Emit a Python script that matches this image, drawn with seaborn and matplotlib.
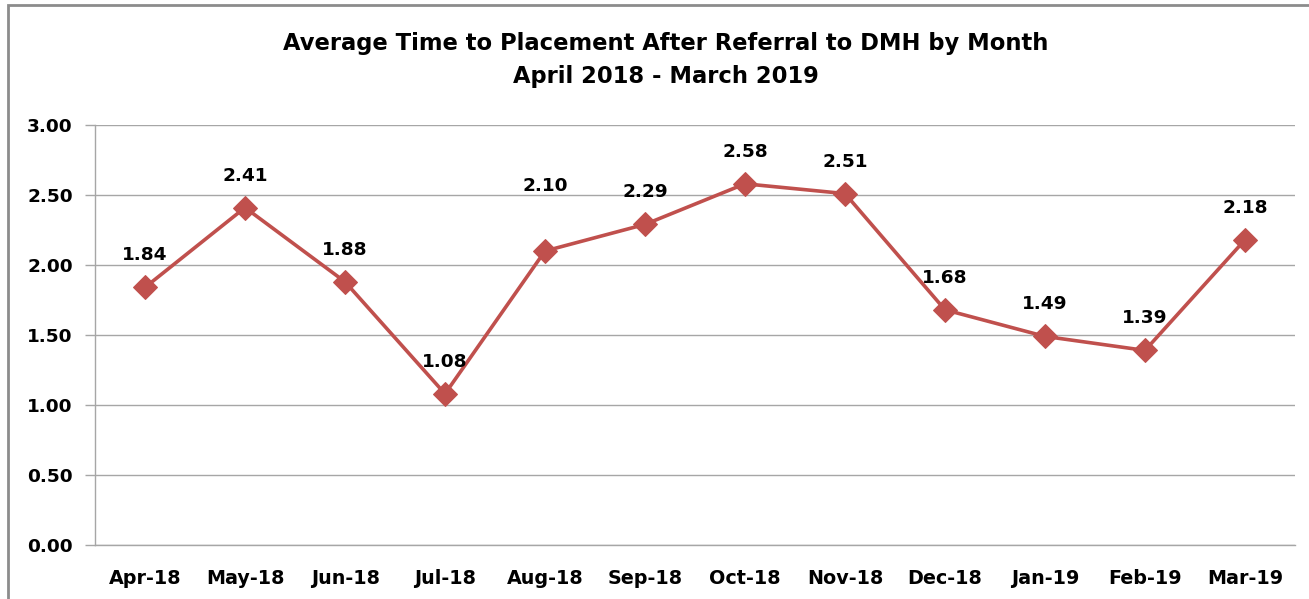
"""
Average time to placement after referral to DMH, monthly line chart
"""
import matplotlib
matplotlib.use("Agg")
import matplotlib.pyplot as plt
from matplotlib.patches import Rectangle
import seaborn as sns
import numpy as np
import pandas as pd

# Chart data
months = ["Apr-18", "May-18", "Jun-18", "Jul-18", "Aug-18", "Sep-18",
          "Oct-18", "Nov-18", "Dec-18", "Jan-19", "Feb-19", "Mar-19"]
avg_time = [1.84, 2.41, 1.88, 1.08, 2.10, 2.29, 2.58, 2.51, 1.68, 1.49, 1.39, 2.18]
y_ticks = [0.0, 0.5, 1.0, 1.5, 2.0, 2.5, 3.0]

df = pd.DataFrame({"month": months, "value": avg_time})

sns.set_style("white")
plt.rcParams["font.family"] = ["DejaVu Sans"]
plt.rcParams["text.color"] = "black"
plt.rcParams["xtick.labelcolor"] = "black"
plt.rcParams["ytick.labelcolor"] = "black"

LINE = "#C0504D"
GRID = "#A6A6A6"

fig = plt.figure(figsize=(13.09, 5.99), dpi=100)
ax = fig.add_axes([95 / 1309, 1 - 545 / 599, 1200 / 1309, 420 / 599])

sns.lineplot(data=df, x="month", y="value", ax=ax, color=LINE, linewidth=2.6,
             marker="D", markersize=12.5, markeredgecolor=LINE, sort=False)

# Data labels above points (Aug label sits higher in the original)
label_offsets = [33] * len(months)
label_offsets[4] = 66
for i, (v, off) in enumerate(zip(avg_time, label_offsets)):
    ax.annotate(f"{v:.2f}", (i, v), xytext=(0, off - 10), textcoords="offset pixels",
                ha="center", va="bottom", fontsize=13.3, fontweight="bold",
                color="black")

ax.set_xlim(-0.5, len(months) - 0.5)
ax.set_ylim(0, 3)
ax.set_yticks(y_ticks)
ax.set_yticklabels([f"{t:.2f}" for t in y_ticks])
ax.set_xticks(range(len(months)))
ax.set_xticklabels(months)
ax.set_xticks(np.arange(-0.5, len(months), 1.0), minor=True)
ax.tick_params(axis="x", which="major", length=0, pad=17)
ax.tick_params(axis="x", which="minor", length=7, color=GRID, width=1)
ax.tick_params(axis="y", length=7, color=GRID, width=1, pad=9, left=True)
for lbl in ax.get_xticklabels():
    lbl.set_fontweight("bold")
    lbl.set_fontsize(13.8)
for lbl in ax.get_yticklabels():
    lbl.set_fontweight("bold")
    lbl.set_fontsize(13.3)

ax.grid(axis="y", color=GRID, linewidth=1)
ax.set_axisbelow(True)
ax.set_xlabel("")
ax.set_ylabel("")
for side in ["top", "right"]:
    ax.spines[side].set_visible(False)
for side in ["left", "bottom"]:
    ax.spines[side].set_color(GRID)
    ax.spines[side].set_linewidth(1)

fig.text(666 / 1309, 1 - 60 / 599,
         "Average Time to Placement After Referral to DMH by Month\nApril 2018 - March 2019",
         ha="center", va="center", fontsize=16.3, fontweight="bold", linespacing=1.6)

# Chart-area border, as in the source image
fig.patches.append(Rectangle((8 / 1309, -0.1), 1.2, 1 - 5 / 599 + 0.1,
                             transform=fig.transFigure, fill=False,
                             edgecolor="#8C8C8C", linewidth=2))

fig.savefig("out.png", dpi=100)
